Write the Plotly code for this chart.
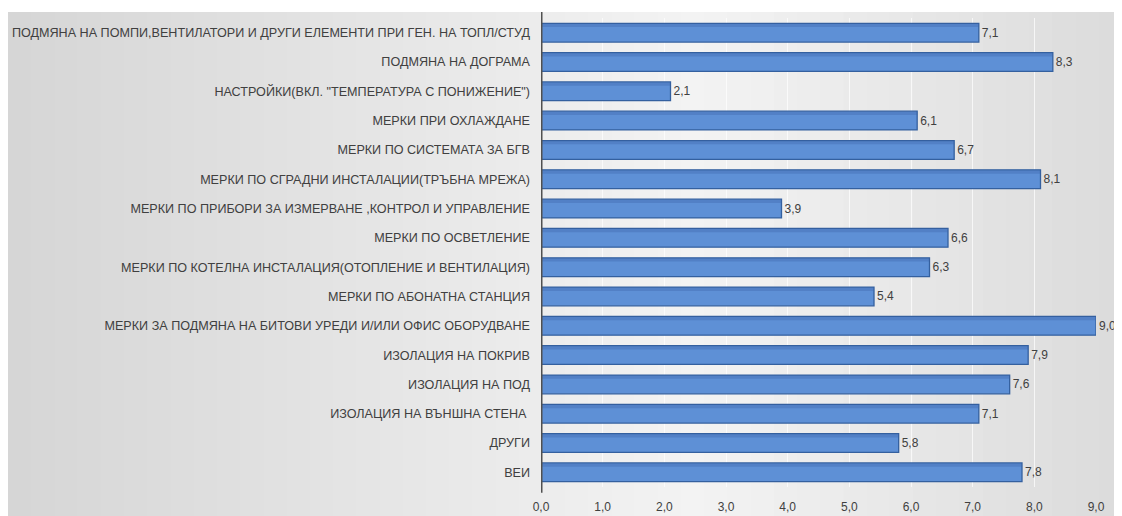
import plotly.graph_objects as go

categories = [
    "ПОДМЯНА НА ПОМПИ,ВЕНТИЛАТОРИ И ДРУГИ ЕЛЕМЕНТИ ПРИ ГЕН. НА ТОПЛ/СТУД",
    "ПОДМЯНА НА ДОГРАМА",
    "НАСТРОЙКИ(ВКЛ. \"ТЕМПЕРАТУРА С ПОНИЖЕНИЕ\")",
    "МЕРКИ ПРИ ОХЛАЖДАНЕ",
    "МЕРКИ ПО СИСТЕМАТА ЗА БГВ",
    "МЕРКИ ПО СГРАДНИ ИНСТАЛАЦИИ(ТРЪБНА МРЕЖА)",
    "МЕРКИ ПО ПРИБОРИ ЗА ИЗМЕРВАНЕ ,КОНТРОЛ И УПРАВЛЕНИЕ",
    "МЕРКИ ПО ОСВЕТЛЕНИЕ",
    "МЕРКИ ПО КОТЕЛНА ИНСТАЛАЦИЯ(ОТОПЛЕНИЕ И ВЕНТИЛАЦИЯ)",
    "МЕРКИ ПО АБОНАТНА СТАНЦИЯ",
    "МЕРКИ ЗА ПОДМЯНА НА БИТОВИ УРЕДИ И/ИЛИ ОФИС ОБОРУДВАНЕ",
    "ИЗОЛАЦИЯ НА ПОКРИВ",
    "ИЗОЛАЦИЯ НА ПОД",
    "ИЗОЛАЦИЯ НА ВЪНШНА СТЕНА ",
    "ДРУГИ",
    "ВЕИ",
]
values = [7.1, 8.3, 2.1, 6.1, 6.7, 8.1, 3.9, 6.6, 6.3, 5.4, 9.0, 7.9, 7.6, 7.1, 5.8, 7.8]
tick_values = [0, 1, 2, 3, 4, 5, 6, 7, 8, 9]

FONT = "Liberation Sans, Arial, sans-serif"
# the page adds an 8px body margin, so the figure is sized to fit inside 1122x516
W, H = 1114, 508
ML, MR, MT, MB = 533, 26, 10, 29
PW = W - ML - MR
PH = H - MT - MB

fig = go.Figure()

# main bar (front face)
fig.add_trace(go.Bar(
    y=categories, x=values, orientation="h",
    marker=dict(color="#5E90D6", line=dict(color="#34609F", width=1.3)),
    width=0.64,
    text=values, texttemplate="%{x:.1f}", textposition="outside",
    textfont=dict(family=FONT, size=12, color="#404040"),
    cliponaxis=False, hoverinfo="skip",
))
# subtle darker band along the top edge of each bar (3D bevel)
fig.add_trace(go.Bar(
    y=categories, x=values, orientation="h",
    marker=dict(color="rgba(60,100,170,0.35)", line=dict(width=0)),
    width=0.12, offset=-0.31,
    hoverinfo="skip",
))

# background gradient strips (decoration)
shapes = []
n = 48
x_left = -ML / PW
x_span = W / PW
for i in range(n):
    t = i / (n - 1)
    if t < 0.62:
        g = 214 + (244 - 214) * (t / 0.62)
    else:
        g = 244 - (244 - 220) * ((t - 0.62) / 0.38)
    g = int(g)
    shapes.append(dict(type="rect", xref="paper", yref="paper",
                       x0=x_left + i * x_span / n, x1=x_left + (i + 1) * x_span / n + 0.002,
                       y0=-MB / PH - 0.01, y1=1 + 6 / PH,
                       fillcolor=f"rgb({g},{g},{g})", line=dict(width=0), layer="below"))
# left wall line (axis)
shapes.append(dict(type="line", xref="x", yref="paper", x0=0, x1=0, y0=-0.012, y1=1 + 6 / PH,
                   line=dict(color="#505050", width=3)))

fig.update_layout(
    width=W, height=H,
    margin=dict(l=ML, r=MR, t=MT, b=MB),
    paper_bgcolor="white",
    plot_bgcolor="rgba(0,0,0,0)",
    separators=", ",
    barmode="overlay",
    showlegend=False,
    shapes=shapes,
    font=dict(family=FONT, color="#404040"),
)
fig.update_xaxes(
    range=[0, 9], tickvals=tick_values, tickformat=".1f",
    showgrid=True, gridcolor="rgba(255,255,255,0.7)", gridwidth=1,
    zeroline=False, showline=False, automargin=False,
    tickfont=dict(size=12, color="#404040"),
    ticks="", ticklabelstandoff=11,
)
fig.update_yaxes(
    autorange="reversed", showgrid=False, automargin=False,
    tickfont=dict(size=12.6, color="#404040"),
    ticks="", ticklabelstandoff=10,
)

fig.write_html("out.html")
